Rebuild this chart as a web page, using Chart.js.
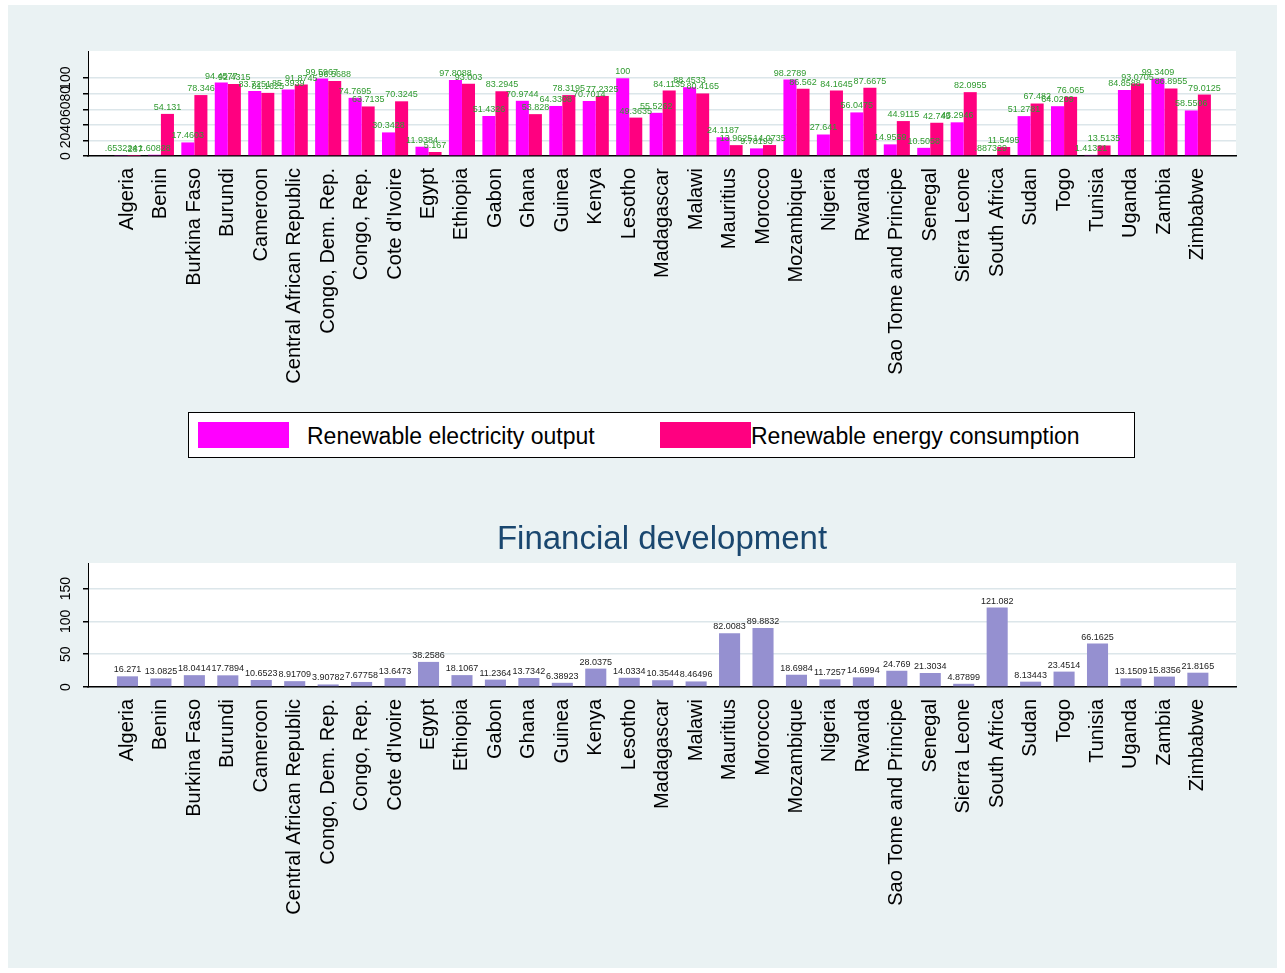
<!DOCTYPE html>
<html>
<head>
<meta charset="utf-8">
<script src="https://cdn.jsdelivr.net/npm/chart.js@4"></script>
<style>
  body { margin: 0; background: #fff; width: 1285px; height: 973px; position: relative; overflow: hidden; }
  #bg { position: absolute; left: 8px; top: 5px; width: 1269px; height: 963px; background: #eaf2f3; }
  canvas { position: absolute; left: 0; }
  #top-chart { top: 0; }
  #bottom-chart { top: 500px; }
  #legend { position: absolute; left: 188px; top: 412px; width: 945px; height: 44px; background: #fff; border: 1px solid #000;
            font-family: "Liberation Sans", Arial, sans-serif; font-size: 23px; color: #000; }
  #legend .sw { position: absolute; top: 9px; width: 91px; height: 26px; }
  #legend .txt { position: absolute; top: 10px; line-height: 26px; white-space: nowrap; }
</style>
</head>
<body>
<div id="bg"></div>
<canvas id="top-chart" width="1285" height="400"></canvas>
<div id="legend">
  <div class="sw" style="left:9px;background:#ff00ff"></div>
  <div class="txt" style="left:118px">Renewable electricity output</div>
  <div class="sw" style="left:471px;background:#ff0080"></div>
  <div class="txt" style="left:562px">Renewable energy consumption</div>
</div>
<canvas id="bottom-chart" width="1285" height="460"></canvas>
<script>
// data
const countries = ["Algeria", "Benin", "Burkina Faso", "Burundi", "Cameroon", "Central African Republic",
  "Congo, Dem. Rep.", "Congo, Rep.", "Cote d'Ivoire", "Egypt", "Ethiopia", "Gabon", "Ghana", "Guinea",
  "Kenya", "Lesotho", "Madagascar", "Malawi", "Mauritius", "Morocco", "Mozambique", "Nigeria", "Rwanda",
  "Sao Tome and Principe", "Senegal", "Sierra Leone", "South Africa", "Sudan", "Togo", "Tunisia",
  "Uganda", "Zambia", "Zimbabwe"];

const electricityOutput = [0.653224, 1.60828, 17.4603, 94.4577, 83.7251, 85.3939,
  99.5967, 74.7695, 30.3428, 11.9384, 97.8088, 51.4326, 70.9744, 64.3308,
  70.7014, 100, 55.5262, 88.4533, 24.1187, 9.78193, 98.2789, 27.641, 56.0475,
  14.9559, 10.5058, 43.2946, 0.887329, 51.2781, 64.0209, 1.41321,
  84.8588, 99.3409, 58.5506];

const energyConsumption = [0.287, 54.131, 78.346, 92.4315, 81.1625, 91.8745,
  96.5688, 63.7135, 70.3245, 5.167, 93.003, 83.2945, 53.828, 78.3195,
  77.2325, 49.3635, 84.1135, 80.4165, 13.9625, 14.0735, 86.562, 84.1645, 87.6675,
  44.9115, 42.745, 82.0955, 11.5495, 67.482, 76.065, 13.5135,
  93.0705, 86.8955, 79.0125];

const financialDev = [16.271, 13.0825, 18.0414, 17.7894, 10.6523, 8.91709,
  3.90782, 7.67758, 13.6473, 38.2586, 18.1067, 11.2364, 13.7342, 6.38923,
  28.0375, 14.0334, 10.3544, 8.46496, 82.0083, 89.8832, 18.6984, 11.7257, 14.6994,
  24.769, 21.3034, 4.87899, 121.082, 8.13443, 23.4514, 66.1625,
  13.1509, 15.8356, 21.8165];

const topTicks = [0, 20, 40, 60, 80, 100];
const bottomTicks = [0, 50, 100, 150];

const FONT = '"Liberation Sans", Arial, sans-serif';

// stata style number: 6 significant digits, no leading zero
function fmt(v) {
  let s = String(parseFloat(v.toPrecision(6)));
  if (s.startsWith('0.')) s = s.slice(1);
  return s;
}

const valueLabels = {
  id: 'valueLabels',
  afterDatasetsDraw(chart, args, opts) {
    const ctx = chart.ctx;
    ctx.save();
    ctx.font = '9px ' + FONT;
    ctx.fillStyle = opts.color;
    ctx.textAlign = 'center';
    ctx.textBaseline = 'bottom';
    chart.data.datasets.forEach((ds, di) => {
      chart.getDatasetMeta(di).data.forEach((bar, i) => {
        ctx.fillText(fmt(ds.data[i].y), bar.x, bar.y - 2);
      });
    });
    ctx.restore();
  }
};

// y tick labels are rotated in the original
const rotatedYLabels = {
  id: 'rotatedYLabels',
  afterDraw(chart) {
    const ctx = chart.ctx;
    const y = chart.scales.y;
    ctx.save();
    ctx.font = '14px ' + FONT;
    ctx.fillStyle = '#000';
    ctx.textAlign = 'center';
    ctx.textBaseline = 'middle';
    y.ticks.forEach(t => {
      ctx.save();
      ctx.translate(66, y.getPixelForValue(t.value));
      ctx.rotate(-Math.PI / 2);
      ctx.fillText(String(t.value), 0, 0);
      ctx.restore();
    });
    ctx.restore();
  }
};

const plotTitle = {
  id: 'plotTitle',
  afterDraw(chart, args, opts) {
    if (!opts.text) return;
    const ctx = chart.ctx;
    const a = chart.chartArea;
    ctx.save();
    ctx.font = '33px ' + FONT;
    ctx.fillStyle = '#1a476f';
    ctx.textAlign = 'center';
    ctx.textBaseline = 'middle';
    ctx.fillText(opts.text, (a.left + a.right) / 2, opts.y);
    ctx.restore();
  }
};

const whitePlot = {
  id: 'whitePlot',
  beforeDraw(chart) {
    const a = chart.chartArea;
    chart.ctx.save();
    chart.ctx.fillStyle = '#fff';
    chart.ctx.fillRect(a.left, a.top, a.right - a.left, a.bottom - a.top);
    chart.ctx.restore();
  }
};

function makeOptions(yMax, yTicks, xHeight, padTop, labelColor, titleText) {
  return {
    responsive: false,
    animation: false,
    devicePixelRatio: 1,
    layout: { padding: { top: padTop, right: 49, left: 0, bottom: 0 } },
    plugins: {
      legend: { display: false },
      tooltip: { enabled: false },
      valueLabels: { color: labelColor },
      plotTitle: { text: titleText, y: 40 }
    },
    scales: {
      x: {
        type: 'linear',
        offset: false,
        min: -1.18,
        max: 33.14,
        afterBuildTicks: s => { s.ticks = countries.map((c, i) => ({ value: i })); },
        afterFit: s => { s.height = xHeight; },
        grid: { display: false, drawTicks: false, offset: false },
        border: { display: true, color: '#000', width: 1.5 },
        ticks: {
          autoSkip: false,
          minRotation: 90,
          maxRotation: 90,
          padding: 12,
          color: '#000',
          font: { size: 20, family: FONT },
          callback: v => countries[v]
        }
      },
      y: {
        min: 0,
        max: yMax,
        afterBuildTicks: s => { s.ticks = yTicks.map(v => ({ value: v })); },
        afterFit: s => { s.width = 88; },
        grid: { color: '#dce6ea', lineWidth: 1.5, tickColor: '#000', tickLength: 5, drawTicks: true },
        border: { display: true, color: '#000', width: 1 },
        ticks: { display: false }
      }
    }
  };
}

document.addEventListener('DOMContentLoaded', () => {
  new Chart(document.getElementById('top-chart').getContext('2d'), {
    type: 'bar',
    data: {
      datasets: [{
        label: 'Renewable electricity output',
        data: electricityOutput.map((v, i) => ({ x: i, y: v })),
        backgroundColor: '#ff00ff',
        categoryPercentage: 0.78,
        barPercentage: 1.0
      }, {
        label: 'Renewable energy consumption',
        data: energyConsumption.map((v, i) => ({ x: i, y: v })),
        backgroundColor: '#ff0080',
        categoryPercentage: 0.78,
        barPercentage: 1.0
      }]
    },
    options: makeOptions(135, topTicks, 244, 51, '#2f9a2f', null),
    plugins: [whitePlot, valueLabels, rotatedYLabels, plotTitle]
  });

  new Chart(document.getElementById('bottom-chart').getContext('2d'), {
    type: 'bar',
    data: {
      datasets: [{
        label: 'Financial development',
        data: financialDev.map((v, i) => ({ x: i, y: v })),
        backgroundColor: '#9590d0',
        categoryPercentage: 0.63,
        barPercentage: 1.0
      }]
    },
    options: makeOptions(189, bottomTicks, 273, 63, '#222', 'Financial development'),
    plugins: [whitePlot, valueLabels, rotatedYLabels, plotTitle]
  });
});
</script>
</body>
</html>
